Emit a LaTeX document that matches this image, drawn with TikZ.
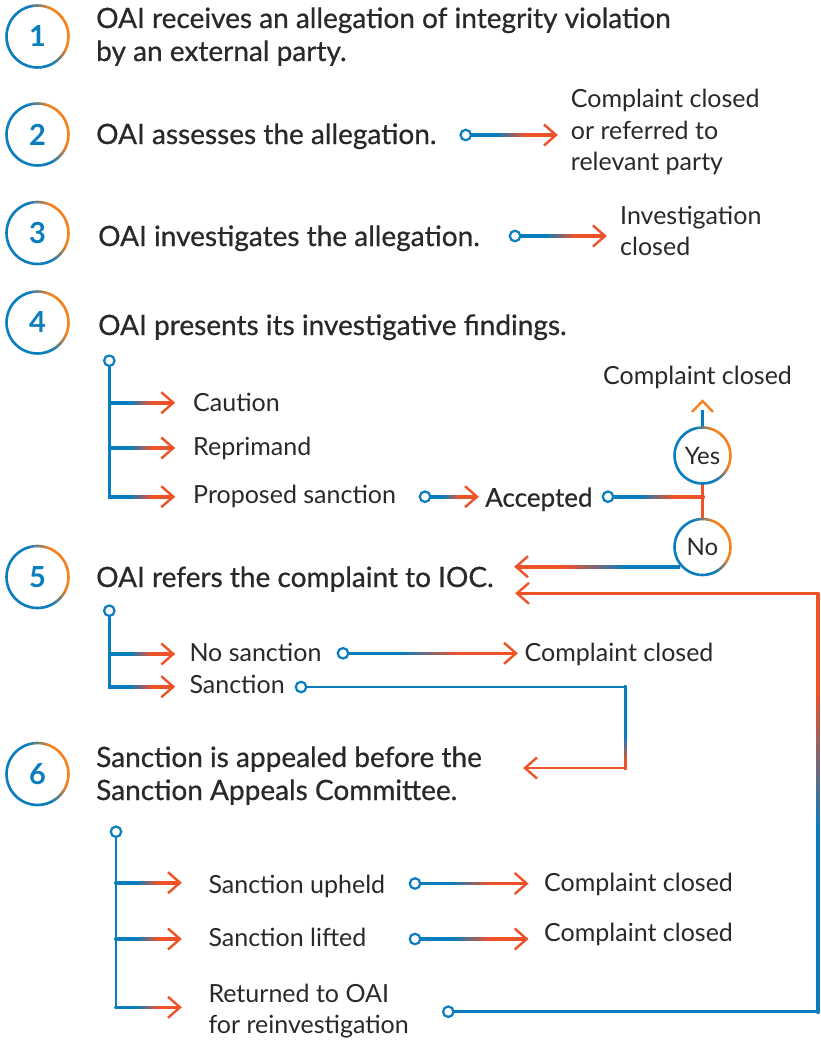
\documentclass[tikz,border=0pt]{standalone}
\usepackage{fontspec}
\setmainfont{Lato}
\newfontfamily\medfont[FakeBold=0.6]{Lato}
\usetikzlibrary{calc}
\definecolor{cblue}{HTML}{0A7DBE}
\definecolor{corange}{HTML}{F5821F}
\definecolor{cred}{HTML}{EE5229}
\definecolor{ctext}{HTML}{2A2829}
\pgfdeclarehorizontalshading{br}{100bp}{color(0bp)=(cblue); color(42bp)=(cblue); color(58bp)=(cred); color(100bp)=(cred)}
\pgfdeclarehorizontalshading{rb}{100bp}{color(0bp)=(cred); color(40bp)=(cred); color(58bp)=(cblue); color(100bp)=(cblue)}
\pgfdeclareverticalshading{bup}{100bp}{color(0bp)=(cblue); color(47bp)=(cblue); color(63bp)=(cred); color(100bp)=(cred)}
\pgfdeclareverticalshading{bdown}{100bp}{color(0bp)=(cred); color(30bp)=(cred); color(44bp)=(cblue); color(100bp)=(cblue)}
\newcommand\hl[3]{\shade[shading=#1] ($(#2)+(0,-1.3)$) rectangle ($(#3)+(0,1.3)$);}
\newcommand\vl[3]{\shade[shading=#1] ($(#2)+(-1.3,0)$) rectangle ($(#3)+(1.3,0)$);}
\newcommand\headr[1]{\draw[hd] ($(#1)+(-12,-10.5)$) -- (#1) -- ($(#1)+(-12,10.5)$);}
\newcommand\headl[1]{\draw[hd] ($(#1)+(12,-10.5)$) -- (#1) -- ($(#1)+(12,10.5)$);}
\newcommand\ring[2]{%
  \foreach \a in {0,6,...,354}{%
    \pgfmathsetmacro\dd{abs(mod(\a+205,360)-180)}%
    \pgfmathsetmacro\w{max(0,min(100,(85-\dd)*2.5))}%
    \draw[line width=2.6, color=corange!\w!cblue] ($(#1)+(\a:#2)$) arc[start angle=\a, end angle=\a+6.6, radius=#2];}}
\begin{document}
\begin{tikzpicture}[x=1pt,y=-1pt,
  main/.style={anchor=base west, inner sep=0, text=ctext, font=\medfont\fontsize{28}{33}\selectfont, align=left},
  sub/.style={anchor=base west, inner sep=0, text=ctext, font=\fontsize{25}{31.5}\selectfont, align=left},
  num/.style={text=cblue, font=\fontsize{29}{29}\selectfont\bfseries, inner sep=0},
  dot/.style={circle, draw=cblue, fill=white, line width=2.2, minimum size=10.5, inner sep=0},
  yn/.style={circle, minimum size=56, inner sep=0, text=ctext, font=\fontsize{24}{24}\selectfont},
  ln/.style={line width=2.6, cblue},
  rl/.style={line width=2.6, cred},
  hd/.style={line width=2.4, line join=miter, line cap=butt, cred}]
\useasboundingbox (0,0) rectangle (820,1041);
\fill[white] (0,0) rectangle (820,1041);
% step circles
\coordinate (s1) at (37.5,36.5);
\coordinate (s2) at (37.5,134.5);
\coordinate (s3) at (37.5,233);
\coordinate (s4) at (37.5,322.5);
\coordinate (s5) at (37.5,577);
\coordinate (s6) at (37.5,774);
\foreach \s/\n in {s1/1,s2/2,s3/3,s4/4,s5/5,s6/6}{\ring{\s}{31}\node[num] (n\n) at (\s) {\n};}
% step 1 (base anchor = last line)
\node[main] (t1) at (96,61) {OAI receives an allegation of integrity violation\\by an external party.};
% step 2
\node[main] (t2) at (96,144) {OAI assesses the allegation.};
\coordinate (d2) at (465.7,135); \coordinate (e2) at (556,135);
\hl{br}{d2}{e2}\headr{e2}
\node[dot] (dot2) at (d2) {};
\node[sub] (r2) at (570.7,170.7) {Complaint closed\\or referred to\\relevant party};
% step 3
\node[main] (t3) at (98,246) {OAI investigates the allegation.};
\coordinate (d3) at (515,236); \coordinate (e3) at (605,236);
\hl{br}{d3}{e3}\headr{e3}
\node[dot] (dot3) at (d3) {};
\node[sub] (r3) at (620,255.5) {Investigation\\closed};
% step 4
\node[main] (t4) at (98,335) {OAI presents its investigative findings.};
\coordinate (b4) at (109.3,360.7); \coordinate (b4e) at (109.3,496.7);
\draw[ln, line cap=rect] (b4) -- (b4e);
\foreach \y in {402.7,448,496.7}{\hl{br}{108,\y}{173.3,\y}\headr{173.3,\y}}
\node[dot] (dot4) at (b4) {};
\node[sub] (caution) at (193,411) {Caution};
\node[sub] (reprimand) at (193,455) {Reprimand};
\node[sub] (proposed) at (193,503) {Proposed sanction};
\coordinate (d4a) at (425,496.7); \coordinate (e4a) at (477,496.7);
\hl{br}{d4a}{e4a}\headr{e4a}
\node[dot] (dot4a) at (d4a) {};
\node[main, font=\medfont\fontsize{26}{30}\selectfont] (accepted) at (485,506.7) {Accepted};
\node[yn] (yes) at (702.5,455.5) {Yes};
\node[yn] (no) at (702.5,547) {No};
\coordinate (j4) at (704.3,496.7); \coordinate (d4b) at (608,496.7);
\hl{br}{d4b}{j4}
\draw[rl] (yes.south) -- (no.north);
\coordinate (eyes) at (702.5,401);
\draw[ln] (yes.north) -- (702.5,410);
\draw[hd, corange] ($(eyes)+(-10.5,11)$) -- (eyes) -- ($(eyes)+(10.5,11)$);
\node[dot] (dot4b) at (d4b) {};
\ring{yes.center}{28}
\ring{no.center}{28}
\node[sub] (cc4) at (603,384) {Complaint closed};
\coordinate (nostart) at (680,566.7);
\coordinate (eno) at (516,566.7);
\hl{rb}{eno}{nostart}\headl{eno}
% return path
\coordinate (dr) at (448.3,1011.7); \coordinate (cr1) at (818,1011.7); \coordinate (cr2) at (818,593.3); \coordinate (er) at (517,593.3);
\draw[ln] (dr) -- ($(cr1)+(1.3,0)$);
\vl{bup}{$(cr1)+(0,1.3)$}{$(cr2)+(0,-1.3)$}
\draw[rl] ($(cr2)+(1.3,0)$) -- (er);
\headl{er}
\node[dot] (dotr) at (dr) {};
% step 5
\node[main] (t5) at (96,587) {OAI refers the complaint to IOC.};
\coordinate (b5) at (109.3,610.7); \coordinate (b5e) at (109.3,686.7);
\draw[ln, line cap=rect] (b5) -- (b5e);
\foreach \y in {654,686.7}{\hl{br}{108,\y}{173.3,\y}\headr{173.3,\y}}
\node[dot] (dot5) at (b5) {};
\node[sub] (nosanc) at (189.3,661.7) {No sanction};
\node[sub] (sanc) at (189.3,693) {Sanction};
\coordinate (d5a) at (343,653.3); \coordinate (e5a) at (516,653.3);
\hl{br}{d5a}{e5a}\headr{e5a}
\node[dot] (dot5a) at (d5a) {};
\node[sub] (cc5) at (524.5,661) {Complaint closed};
\coordinate (d5b) at (301,687); \coordinate (c5a) at (625.4,687); \coordinate (c5b) at (625.4,768); \coordinate (e5b) at (525,768);
\draw[ln] (d5b) -- ($(c5a)+(1.3,0)$);
\vl{bdown}{$(c5a)+(0,-1.3)$}{$(c5b)+(0,1.3)$}
\draw[rl] ($(c5b)+(1.3,0)$) -- (e5b);
\headl{e5b}
\node[dot] (dot5b) at (d5b) {};
% step 6
\node[main] (t6) at (96,800) {Sanction is appealed before the\\Sanction Appeals Committee.};
\coordinate (b6) at (116,831.7); \coordinate (b6e) at (116,1007.3);
\draw[ln, line cap=rect] (b6) -- (b6e);
\foreach \y in {882.7,939,1007.3}{\hl{br}{114.7,\y}{180,\y}\headr{180,\y}}
\node[dot] (dot6) at (b6) {};
\node[sub] (upheld) at (208.3,893.3) {Sanction upheld};
\node[sub] (lifted) at (208.3,946.7) {Sanction lifted};
\node[sub] (returned) at (208.3,1033.5) {Returned to OAI\\for reinvestigation};
\coordinate (d6a) at (415,883.5); \coordinate (e6a) at (526.7,883.5);
\hl{br}{d6a}{e6a}\headr{e6a}
\node[dot] (dot6a) at (d6a) {};
\node[sub] (cc6a) at (544,891.7) {Complaint closed};
\coordinate (d6b) at (415,939); \coordinate (e6b) at (526.7,939);
\hl{br}{d6b}{e6b}\headr{e6b}
\node[dot] (dot6b) at (d6b) {};
\node[sub] (cc6b) at (544,941.7) {Complaint closed};
\end{tikzpicture}
\end{document}
